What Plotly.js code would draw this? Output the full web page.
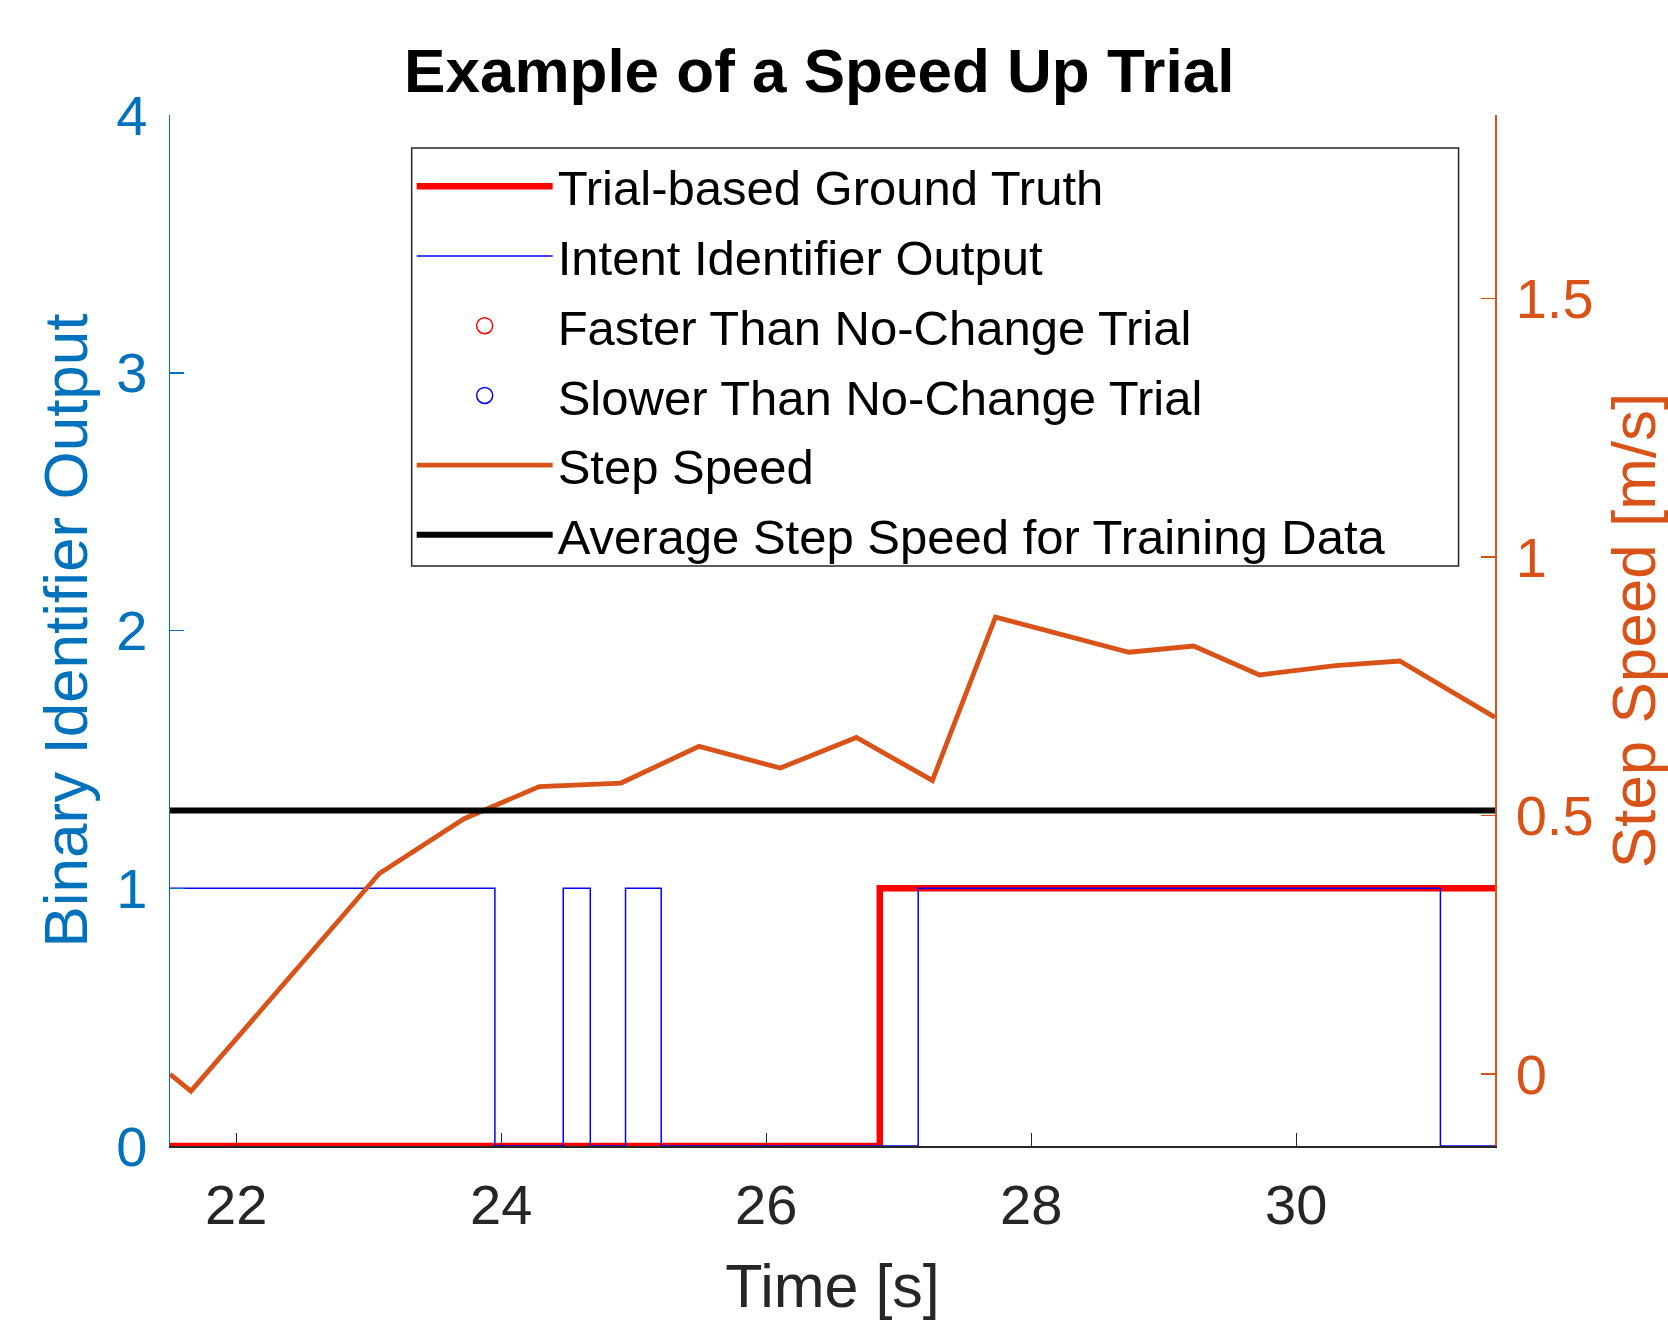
<!DOCTYPE html>
<html><head><meta charset="utf-8">
<script src="https://cdn.plot.ly/plotly-3.0.1.min.js"></script>
<style>html,body{margin:0;padding:0;background:#fff}</style>
</head><body><div id="chart" style="width:1668px;height:1320px"></div>
<script>
// Trial-based ground truth (step)
const gtTimes = [21.5, 26.857, 31.5];
const gtValues = [0, 1, 1];
// Intent identifier output (step)
const intentTimes = [21.5, 23.952, 24.468, 24.672, 24.938, 25.207, 27.147, 31.088, 31.5];
const intentValues = [1, 0, 1, 0, 1, 0, 1, 0, 0];
// Circle markers (no trial markers fall inside the visible window)
const fasterTimes = [null];
const fasterValues = [null];
const slowerTimes = [null];
const slowerValues = [null];
// Step speed [m/s]
const speedTimes = [21.5, 21.658, 23.08, 23.72, 24.287, 24.904, 25.493, 26.106, 26.68, 27.254, 27.73, 28.262, 28.737, 29.226, 29.723, 30.296, 30.781, 31.5];
const speedValues = [0.0, -0.033, 0.388, 0.494, 0.556, 0.563, 0.634, 0.592, 0.651, 0.568, 0.884, 0.848, 0.816, 0.828, 0.772, 0.79, 0.799, 0.69];
// Average step speed for training data
const avgTimes = [21.5, 31.5];
const avgSpeed = [0.51, 0.51];
// Axis ticks
const xTicks = [22, 24, 26, 28, 30];
const yLeftTicks = [0, 1, 2, 3, 4];
const yRightTicks = [0, 0.5, 1, 1.5];
const yRightTickText = ['0', '0.5', '1', '1.5'];

const FONT = 'Liberation Sans, Arial, Helvetica, sans-serif';
const BLUEAX = '#0072BD';
const ORANGE = '#D95319';
const DARK = '#262626';

const traces = [
  {x: gtTimes, y: gtValues, type: 'scatter', mode: 'lines', name: 'Trial-based Ground Truth',
   line: {color: '#FF0000', width: 6.5, shape: 'hv'}, yaxis: 'y', legendgroup: 'a'},
  {x: intentTimes, y: intentValues, type: 'scatter', mode: 'lines', name: 'Intent Identifier Output',
   line: {color: '#0000FF', width: 1.5, shape: 'hv'}, yaxis: 'y', legendgroup: 'b'},
  {x: fasterTimes, y: fasterValues, type: 'scatter', mode: 'markers', name: 'Faster Than No-Change Trial',
   marker: {symbol: 'circle-open', color: '#FF0000', size: 24, line: {width: 1.5}}, yaxis: 'y', legendgroup: 'c'},
  {x: slowerTimes, y: slowerValues, type: 'scatter', mode: 'markers', name: 'Slower Than No-Change Trial',
   marker: {symbol: 'circle-open', color: '#0000FF', size: 24, line: {width: 1.5}}, yaxis: 'y', legendgroup: 'd'},
  {x: speedTimes, y: speedValues, type: 'scatter', mode: 'lines', name: 'Step Speed',
   line: {color: ORANGE, width: 4.8}, yaxis: 'y2', legendgroup: 'e'},
  {x: avgTimes, y: avgSpeed, type: 'scatter', mode: 'lines', name: 'Average Step Speed for Training Data',
   line: {color: '#000000', width: 6}, yaxis: 'y2', legendgroup: 'f'}
];

const layout = {
  width: 1668, height: 1320,
  margin: {l: 170, r: 173, t: 115, b: 174},
  paper_bgcolor: '#ffffff', plot_bgcolor: '#ffffff',
  font: {family: FONT, color: DARK},
  showlegend: true,
  title: {text: '<b>Example of a Speed Up Trial</b>', font: {family: FONT, size: 62, color: '#000000'},
          x: 0.49, xref: 'paper', xanchor: 'center', y: 0.947, yref: 'container', yanchor: 'middle'},
  xaxis: {
    range: [21.5, 31.5], tickvals: xTicks, ticks: 'inside', ticklen: 13, tickwidth: 1.5, tickcolor: DARK,
    showline: true, linecolor: DARK, linewidth: 1.5, mirror: false, showgrid: false, zeroline: false,
    tickfont: {family: FONT, size: 56, color: DARK}, ticklabelstandoff: 9,
    title: {text: 'Time [s]', font: {family: FONT, size: 61, color: DARK}, standoff: 33}
  },
  yaxis: {
    range: [0, 4], tickvals: yLeftTicks, ticks: 'inside', ticklen: 14, tickwidth: 1.5, tickcolor: BLUEAX,
    showline: true, linecolor: BLUEAX, linewidth: 1.5, showgrid: false, zeroline: false,
    tickfont: {family: FONT, size: 56, color: BLUEAX}, ticklabelstandoff: 10,
    title: {text: 'Binary Identifier Output', font: {family: FONT, size: 62, color: BLUEAX}, standoff: 8}
  },
  yaxis2: {
    overlaying: 'y', side: 'right', range: [-0.139, 1.855], tickvals: yRightTicks, ticktext: yRightTickText,
    ticks: 'inside', ticklen: 14, tickwidth: 1.5, tickcolor: ORANGE,
    showline: true, linecolor: ORANGE, linewidth: 1.5, showgrid: false, zeroline: false,
    tickfont: {family: FONT, size: 56, color: ORANGE}, ticklabelstandoff: 8,
    title: {text: 'Step Speed [m/s]', font: {family: FONT, size: 62, color: ORANGE}, standoff: 52}
  },
  legend: {
    x: 0.1824, y: 0.968, xanchor: 'left', yanchor: 'top', xref: 'paper', yref: 'paper',
    bgcolor: 'rgba(0,0,0,0)', borderwidth: 0,
    font: {family: FONT, size: 49, color: '#000000'},
    traceorder: 'grouped', tracegroupgap: 3, itemwidth: 136
  },
  shapes: [
    {type: 'rect', xref: 'paper', yref: 'paper', x0: 0.1824, x1: 0.9725, y0: 0.5626, y1: 0.9681,
     line: {color: DARK, width: 1.5}, fillcolor: 'rgba(0,0,0,0)', layer: 'above'}
  ]
};

Plotly.newPlot('chart', traces, layout, {staticPlot: true, displayModeBar: false});
</script>
</body></html>
